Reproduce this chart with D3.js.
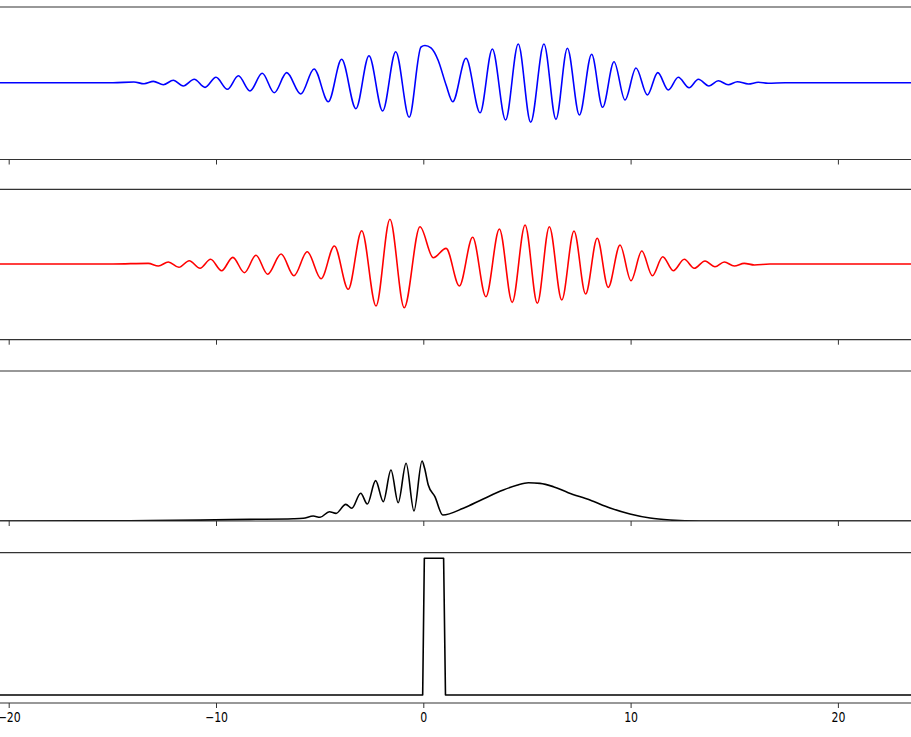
<!DOCTYPE html>
<html>
<head>
<meta charset="utf-8">
<script src="https://cdn.jsdelivr.net/npm/d3@7"></script>
<style>
  html, body { margin: 0; padding: 0; background: #fff; }
  svg { display: block; }
  .tick text { font-family: "DejaVu Sans", sans-serif; font-size: 11.5px; fill: #000; }
</style>
</head>
<body>
<svg id="chart" width="911" height="737"></svg>
<script>
// ---------------- data ----------------
const xTicks = [-20, -10, 0, 10, 20];

// Real part of the wave function (blue)
const realX = [-20.42, -14.97, -13.96, -13.47, -13.02, -12.54, -12.06, -11.58, -11.05, -10.53, -10.00, -9.45, -8.92, -8.36, -7.77, -7.19, -6.59, -5.91, -5.27, -4.58, -3.94, -3.25, -2.62, -1.96, -1.33, -0.68, -0.11, 0.08, 0.37, 0.71, 1.10, 1.42, 2.06, 2.74, 3.33, 3.97, 4.58, 5.18, 5.82, 6.40, 6.95, 7.53, 8.12, 8.65, 9.20, 9.73, 10.26, 10.81, 11.31, 11.82, 12.30, 12.82, 13.27, 13.78, 14.23, 14.71, 15.15, 15.68, 16.16, 16.63, 17.45, 23.53];
const realY = [0, 0, 0.009, -0.014, 0.018, -0.026, 0.032, -0.043, 0.045, -0.061, 0.071, -0.087, 0.092, -0.109, 0.124, -0.132, 0.132, -0.149, 0.180, -0.250, 0.308, -0.342, 0.355, -0.372, 0.408, -0.455, 0.470, 0.489, 0.457, 0.299, -0.030, -0.250, 0.321, -0.395, 0.443, -0.491, 0.509, -0.521, 0.509, -0.482, 0.453, -0.425, 0.374, -0.324, 0.276, -0.228, 0.193, -0.162, 0.132, -0.096, 0.071, -0.066, 0.045, -0.043, 0.026, -0.026, 0.013, -0.017, 0.005, -0.008, 0, 0];

// Imaginary part (red)
const imagX = [-20.42, -14.97, -13.27, -12.78, -12.30, -11.79, -11.29, -10.77, -10.26, -9.73, -9.19, -8.63, -8.07, -7.51, -6.86, -6.24, -5.60, -4.93, -4.29, -3.62, -2.97, -2.28, -1.61, -0.92, -0.16, 0.48, 1.10, 1.74, 2.38, 3.02, 3.67, 4.29, 4.91, 5.50, 6.08, 6.68, 7.27, 7.83, 8.39, 8.92, 9.49, 10.02, 10.54, 11.05, 11.55, 12.06, 12.59, 13.07, 13.59, 14.07, 14.52, 15.00, 15.48, 15.97, 16.72, 23.53];
const imagY = [0, 0, 0.009, -0.027, 0.027, -0.044, 0.044, -0.057, 0.063, -0.089, 0.089, -0.116, 0.116, -0.137, 0.133, -0.156, 0.164, -0.196, 0.240, -0.337, 0.444, -0.560, 0.596, -0.583, 0.497, 0.084, 0.209, -0.293, 0.356, -0.436, 0.467, -0.511, 0.520, -0.524, 0.497, -0.480, 0.440, -0.400, 0.343, -0.311, 0.253, -0.223, 0.173, -0.156, 0.097, -0.089, 0.063, -0.057, 0.040, -0.036, 0.027, -0.027, 0.009, -0.013, 0, 0];

// Probability density |psi|^2 (black)
const probX = [-20.42, -15.59, -13.18, -10.77, -8.36, -6.27, -5.79, -5.31, -4.98, -4.53, -4.21, -3.74, -3.45, -3.02, -2.70, -2.30, -1.93, -1.56, -1.21, -0.83, -0.45, -0.06, 0.06, 0.24, 0.56, 0.94, 1.93, 2.89, 3.86, 4.51, 5.07, 5.63, 6.27, 6.99, 8.04, 9.01, 9.97, 10.94, 11.90, 13.35, 23.53];
const probY = [0, 0.001, 0.003, 0.006, 0.011, 0.015, 0.018, 0.033, 0.025, 0.062, 0.051, 0.111, 0.085, 0.185, 0.113, 0.269, 0.129, 0.340, 0.122, 0.385, 0.067, 0.400, 0.353, 0.240, 0.162, 0.040, 0.085, 0.147, 0.207, 0.238, 0.255, 0.251, 0.229, 0.189, 0.140, 0.087, 0.047, 0.020, 0.007, 0, 0];

// Potential barrier (black)
const potX = [-20.42, -0.03, 0.05, 0.98, 1.07, 23.53];
const potY = [0, 0, 1, 1, 0, 0];

// ---------------- layout ----------------
const W = 911;
const x = d3.scaleLinear().domain([-20, 20]).range([8.7, 837.9]);

const panels = [
  { top: 7,     bottom: 159.5, y: d3.scaleLinear().domain([-1, 1]).range([158.7, 6.7]),
    xs: realX, ys: realY, color: "#0000ff" },
  { top: 189.3, bottom: 339.7, y: d3.scaleLinear().domain([-1, 1]).range([339, 189]),
    xs: imagX, ys: imagY, color: "#ff0000" },
  { top: 371,   bottom: 521,   y: d3.scaleLinear().domain([0, 1]).range([521, 371]),
    xs: probX, ys: probY, color: "#000000" },
  { top: 552.7, bottom: 703,   y: d3.scaleLinear().domain([0, 1]).range([695, 558.3]),
    xs: potX, ys: potY, color: "#000000", linear: true }
];

const svg = d3.select("#chart");
const defs = svg.append("defs");

panels.forEach((p, i) => {
  const g = svg.append("g");

  defs.append("clipPath").attr("id", "clip" + i)
    .append("rect").attr("x", 0).attr("y", p.top).attr("width", W).attr("height", p.bottom - p.top);

  const pts = p.xs.map((xv, j) => [xv, p.ys[j]]);
  const line = d3.line()
    .x(d => x(d[0]))
    .y(d => p.y(d[1]))
    .curve(p.linear ? d3.curveLinear : d3.curveMonotoneX);

  g.append("path")
    .attr("clip-path", "url(#clip" + i + ")")
    .attr("d", line(pts))
    .attr("fill", "none")
    .attr("stroke", p.color)
    .attr("stroke-width", 1.6)
    .attr("stroke-linejoin", "round");

  // spines (top and bottom)
  [p.top, p.bottom].forEach(yy => {
    g.append("line")
      .attr("x1", 0).attr("x2", W)
      .attr("y1", yy).attr("y2", yy)
      .attr("stroke", "#333").attr("stroke-width", 1.2);
  });

  // bottom axis ticks
  const last = i === panels.length - 1;
  const axis = d3.axisBottom(x)
    .tickValues(xTicks)
    .tickSize(5)
    .tickPadding(3)
    .tickFormat(last ? (d => d3.format("d")(d).replace("-", "\u2212")) : () => "");
  const ag = g.append("g")
    .attr("transform", "translate(0," + p.bottom + ")")
    .call(axis);
  ag.select(".domain").remove();
  ag.selectAll(".tick line").attr("stroke", "#333").attr("stroke-width", 1);
  if (last) {
    ag.selectAll(".tick text")
      .attr("y", 0).attr("dy", 0)
      .attr("transform", "translate(0,19) scale(0.95,1.15)");
  }
});
</script>
</body>
</html>
